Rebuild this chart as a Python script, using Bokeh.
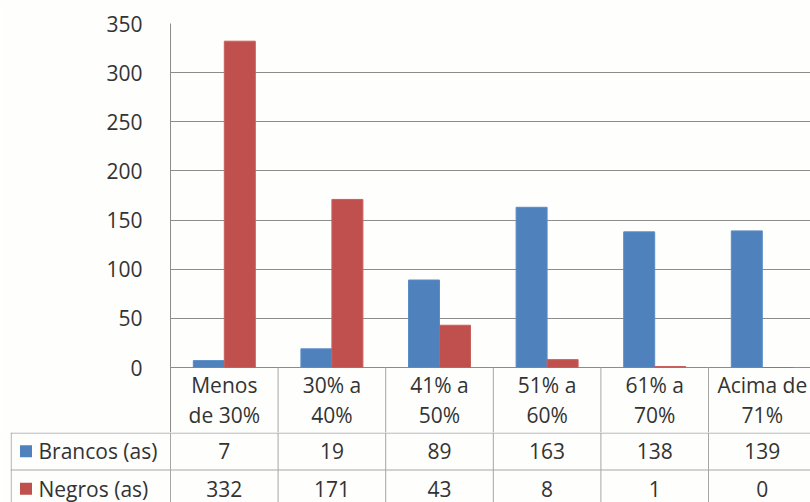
from bokeh.plotting import figure
from bokeh.models import Range1d, FixedTicker, ColumnDataSource
from bokeh.layouts import column
from bokeh.core.properties import value
from bokeh.embed import file_html
from bokeh.resources import INLINE

# ---- data ----
categories = ["Menos de 30%", "30% a 40%", "41% a 50%", "51% a 60%", "61% a 70%", "Acima de 71%"]
category_labels = ["Menos\nde 30%", "30% a\n40%", "41% a\n50%", "51% a\n60%", "61% a\n70%", "Acima de\n71%"]
series_names = ["Brancos (as)", "Negros (as)"]
brancos = [7, 19, 89, 163, 138, 139]
negros = [332, 171, 43, 8, 1, 0]
y_ticks = [0, 50, 100, 150, 200, 250, 300, 350]

# ---- style / layout ----
BLUE = "#4F81BD"
RED = "#C0504D"
BG = "#fefefd"
GRID = "#8c8c8c"
BORDER = "#a6a6a6"
TXT = "#333333"
FONT = "Open Sans"
FS = "21px"

W = 810
PLOT_LEFT = 170      # px left edge of plot area
PLOT_TOP = 23        # px of 350
ZERO_PX = 367        # px of 0
LABEL_ROW_BOTTOM = 432
LINE1_PX = 384
LINE2_PX = 414
TABLE_H = 70
CAT_W = 107.6        # px per category
ROW_H = 37.5         # px per table row

n = len(categories)
idx = list(range(n))
ymax = 350
ppu = (ZERO_PX - PLOT_TOP) / ymax
y_bottom = -(LABEL_ROW_BOTTOM - ZERO_PX) / ppu
x_end = -0.5 + (W - PLOT_LEFT) / CAT_W
bar_w = 31 / CAT_W
off = bar_w / 2

# ---- main chart (plot area + category label row) ----
p = figure(width=W, height=LABEL_ROW_BOTTOM, output_backend="svg", toolbar_location=None,
           x_range=Range1d(-0.5, x_end), y_range=Range1d(y_bottom, ymax),
           min_border_left=PLOT_LEFT, min_border_top=PLOT_TOP, min_border_bottom=0,
           min_border_right=0, background_fill_color=BG, border_fill_color=BG)
p.frame_align = False
p.outline_line_color = None
p.xaxis.visible = False
p.xgrid.visible = False
p.yaxis.ticker = FixedTicker(ticks=y_ticks)
p.ygrid.ticker = FixedTicker(ticks=y_ticks)
p.ygrid.grid_line_color = GRID
p.ygrid.grid_line_width = 1
p.yaxis.axis_line_color = GRID
p.yaxis.major_tick_line_color = None
p.yaxis.minor_tick_line_color = None
p.yaxis.major_label_standoff = 22
p.yaxis.major_label_text_font = FONT
p.yaxis.major_label_text_font_size = FS
p.yaxis.major_label_text_color = TXT

lines = [lab.split("\n") for lab in category_labels]
src = ColumnDataSource(dict(
    xb=[i - off for i in idx], xn=[i + off for i in idx],
    brancos=brancos, negros=negros, x=idx,
    l1=[l[0] for l in lines], l2=[l[1] for l in lines]))
p.vbar(x="xb", top="brancos", bottom=0, width=bar_w, source=src,
       fill_color=BLUE, line_color="#5b8cc6", line_width=1)
p.vbar(x="xn", top="negros", bottom=0, width=bar_w, source=src,
       fill_color=RED, line_color="#c95f5c", line_width=1)

# category label row
p.segment(x0=[i + 0.5 for i in idx], y0=[0] * n, x1=[i + 0.5 for i in idx], y1=[y_bottom] * n,
          line_color=BORDER, line_width=1)
for col, px in (("l1", LINE1_PX), ("l2", LINE2_PX)):
    p.text(x="x", y=-(px - ZERO_PX) / ppu, text=col, source=src, text_align="center",
           text_baseline="middle", text_font=value(FONT), text_font_size=FS,
           text_color=TXT)

# ---- data table ----
tx_start = -0.5 - (PLOT_LEFT - 10) / CAT_W
rows_h = TABLE_H / ROW_H
t = figure(width=W, height=TABLE_H, output_backend="svg", toolbar_location=None,
           x_range=Range1d(tx_start, x_end), y_range=Range1d(-rows_h, 0),
           min_border_left=10, min_border_top=0, min_border_bottom=0, min_border_right=0,
           background_fill_color=BG, border_fill_color=BG)
t.frame_align = False
t.outline_line_color = None
t.axis.visible = False
t.grid.visible = False

# borders
vx = [tx_start + 0.006] + [i - 0.5 for i in range(n + 1)]
t.segment(x0=vx, y0=[0] * len(vx), x1=vx, y1=[-rows_h] * len(vx),
          line_color=BORDER, line_width=1)
t.segment(x0=[tx_start, tx_start], y0=[-0.015, -1], x1=[x_end, x_end], y1=[-0.015, -1],
          line_color=BORDER, line_width=1)

tsrc = ColumnDataSource(dict(x=idx, b=[str(v) for v in brancos], ng=[str(v) for v in negros]))
t.text(x="x", y=-0.5, text="b", source=tsrc, text_align="center", text_baseline="middle",
       text_font=value(FONT), text_font_size=FS, text_color=TXT)
t.text(x="x", y=-1.5, text="ng", source=tsrc, text_align="center", text_baseline="middle",
       text_font=value(FONT), text_font_size=FS, text_color=TXT)

# legend keys
key_x = tx_start + 15.5 / CAT_W
lab_x = tx_start + 28 / CAT_W
t.rect(x=[key_x, key_x], y=[-0.5, -1.5], width=12, height=12, width_units="screen",
       height_units="screen", fill_color=[BLUE, RED], line_color=None)
t.text(x=[lab_x, lab_x], y=[-0.5, -1.5], text=series_names, text_align="left",
       text_baseline="middle", text_font=value(FONT), text_font_size=FS, text_color=TXT)

layout = column(p, t, spacing=0)
open("out.html", "w").write(file_html(layout, INLINE))
